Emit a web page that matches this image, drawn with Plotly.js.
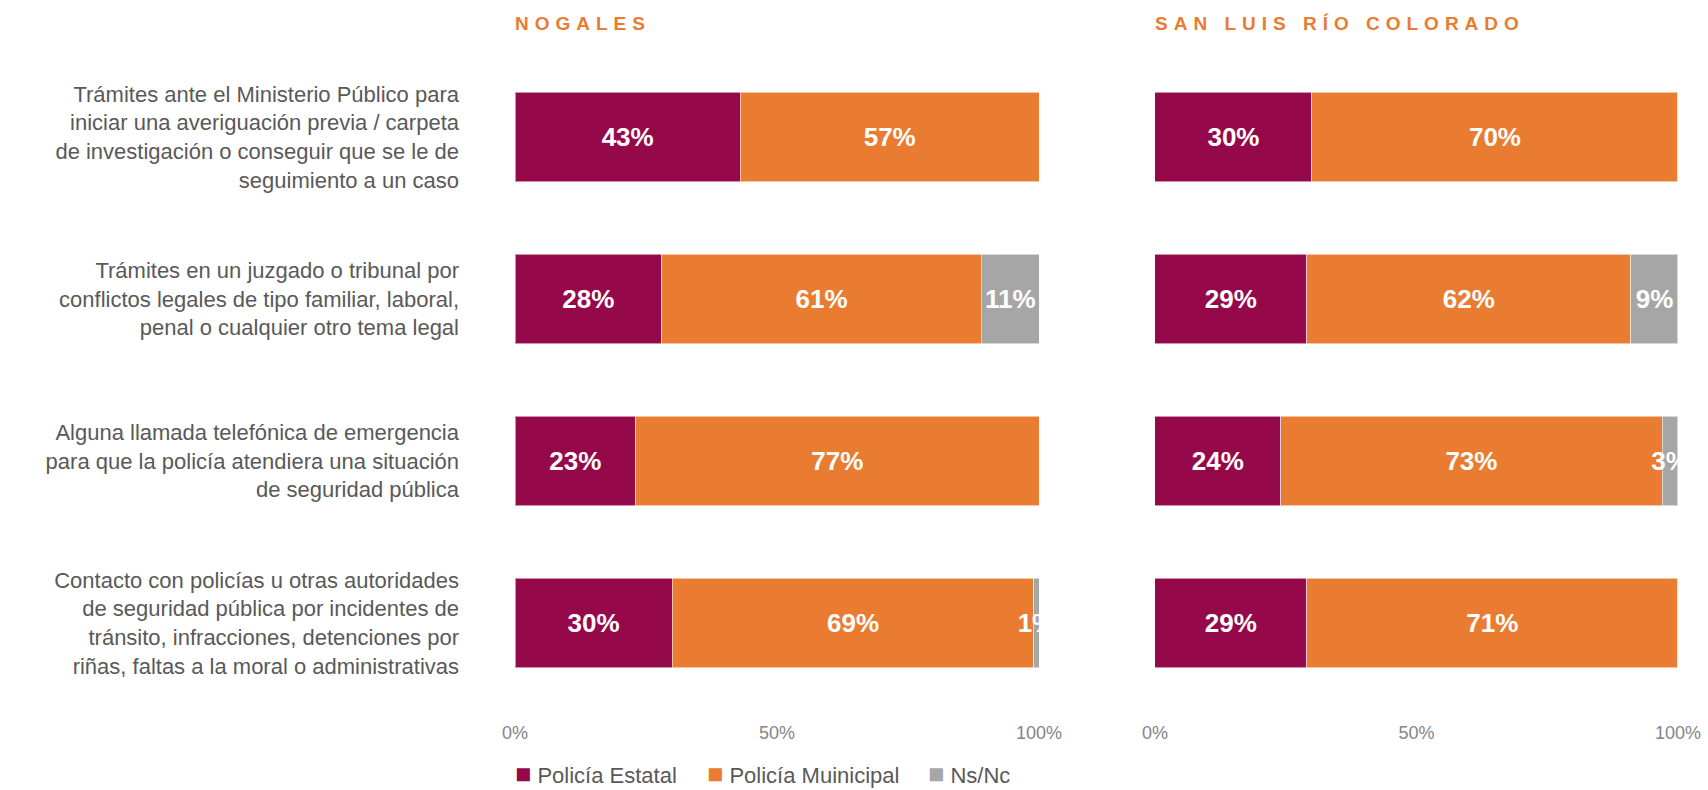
<!DOCTYPE html>
<html>
<head>
<meta charset="utf-8">
<script src="https://cdn.plot.ly/plotly-3.0.1.min.js"></script>
<style>
html,body{margin:0;padding:0;background:#fff;}
#chart{width:1708px;height:790px;}
.annotation[data-index="0"] .annotation-text,
.annotation[data-index="1"] .annotation-text{letter-spacing:6px;}
</style>
</head>
<body>
<div id="chart"></div>
<script>
const categories = [
  "Trámites ante el Ministerio Público para<br>iniciar una averiguación previa / carpeta<br>de investigación o conseguir que se le de<br>seguimiento a un caso",
  "Trámites en un juzgado o tribunal por<br>conflictos legales de tipo familiar, laboral,<br>penal o cualquier otro tema legal",
  "Alguna llamada telefónica de emergencia<br>para que la policía atendiera una situación<br>de seguridad pública",
  "Contacto con policías u otras autoridades<br>de seguridad pública por incidentes de<br>tránsito, infracciones, detenciones por<br>riñas, faltas a la moral o administrativas"
];
const cities = ["NOGALES", "SAN LUIS RÍO COLORADO"];
const seriesNames = ["Policía Estatal", "Policía Muinicipal", "Ns/Nc"];
const seriesColors = ["#95094A", "#E97C30", "#A6A6A6"];

const nogalesEstatal   = [43, 28, 23, 30];
const nogalesMunicipal = [57, 61, 77, 69];
const nogalesNsNc      = [0, 11, 0, 1];

const slrcEstatal   = [30, 29, 24, 29];
const slrcMunicipal = [70, 62, 73, 71];
const slrcNsNc      = [0, 9, 3, 0];

const xTicks = [0, 50, 100];

const FONT = "Liberation Sans, Arial, sans-serif";
const groups = [
  [nogalesEstatal, nogalesMunicipal, nogalesNsNc],
  [slrcEstatal, slrcMunicipal, slrcNsNc]
];

const traces = [];
groups.forEach((g, gi) => {
  g.forEach((vals, si) => {
    traces.push({
      type: "bar",
      orientation: "h",
      name: seriesNames[si],
      x: vals,
      y: categories,
      xaxis: gi === 0 ? "x" : "x2",
      yaxis: gi === 0 ? "y" : "y2",
      marker: {color: seriesColors[si], line: {color: "rgba(255,255,255,0.55)", width: 1}},
      text: vals.map(v => v > 0 ? v + "%" : ""),
      textposition: "inside",
      insidetextanchor: "middle",
      textangle: 0,
      constraintext: "none",
      textfont: {family: FONT, size: 26, color: "#ffffff", weight: "bold"},
      hoverinfo: "skip",
      showlegend: false
    });
  });
});

const xAxisBase = {
  range: [0, 100],
  tickvals: xTicks,
  ticktext: xTicks.map(v => v + "%"),
  showgrid: false, zeroline: false, showline: false,
  ticks: "",
  ticklabelstandoff: 16,
  tickfont: {family: FONT, size: 18, color: "#858585"},
  fixedrange: true
};

const yAxisBase = {
  type: "category",
  categoryorder: "array",
  categoryarray: categories,
  range: [3.5, -0.5],
  showgrid: false, zeroline: false, showline: false,
  ticks: "",
  fixedrange: true
};

const titleFont = {family: FONT, size: 19, color: "#E97C30", weight: "bold"};
const annotations = [
  {text: cities[0], xref: "paper", yref: "paper", x: -0.002, y: 1.0494, xanchor: "left", yanchor: "middle",
   align: "left", showarrow: false, font: titleFont},
  {text: cities[1], xref: "paper", yref: "paper", x: 0.5483, y: 1.0494, xanchor: "left", yanchor: "middle",
   align: "left", showarrow: false, font: titleFont}
];
const legendX = [-0.002, 0.1635, 0.3535];
seriesNames.forEach((n, i) => {
  annotations.push({
    text: '<span style="color:' + seriesColors[i] + ';font-size:27px">■</span> ' + n,
    xref: "paper", yref: "paper", x: legendX[i], y: -0.108, xanchor: "left", yanchor: "middle",
    showarrow: false, font: {family: FONT, size: 22, color: "#595959"}
  });
});

const layout = {
  width: 1708, height: 790,
  margin: {l: 515, r: 30, t: 56, b: 86},
  paper_bgcolor: "#ffffff",
  plot_bgcolor: "#ffffff",
  barmode: "stack",
  bargap: 0.45,
  showlegend: false,
  xaxis: Object.assign({}, xAxisBase, {domain: [0, 0.4506], anchor: "y"}),
  xaxis2: Object.assign({}, xAxisBase, {domain: [0.5503, 1], anchor: "y2"}),
  yaxis: Object.assign({}, yAxisBase, {
    anchor: "x",
    ticklabelstandoff: 55,
    tickfont: {family: FONT, size: 22, color: "#595959"}
  }),
  yaxis2: Object.assign({}, yAxisBase, {anchor: "x2", showticklabels: false}),
  annotations: annotations
};

Plotly.newPlot("chart", traces, layout, {displayModeBar: false, staticPlot: true});
</script>
</body>
</html>
